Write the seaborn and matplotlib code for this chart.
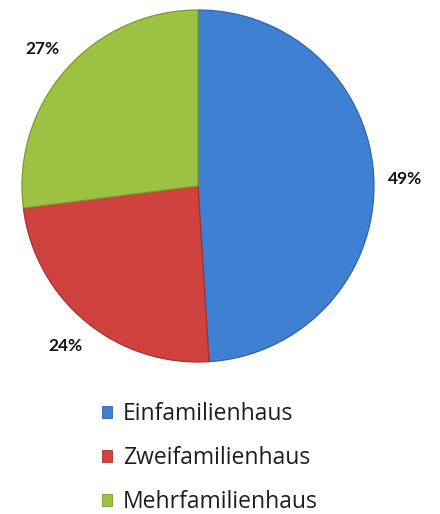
import matplotlib
matplotlib.use("Agg")
import matplotlib.pyplot as plt
import matplotlib.patches as mpatches
import seaborn as sns

# data
categories = ["Einfamilienhaus", "Zweifamilienhaus", "Mehrfamilienhaus"]
shares = [49, 24, 27]
pie_colors = ["#3f80d2", "#cf423e", "#9dc243"]
edge_colors = ["#2f64a8", "#a8302c", "#7a9a2e"]

sns.set_theme(style="white")
plt.rcParams['font.family'] = ['Open Sans', 'DejaVu Sans']
palette = sns.color_palette(pie_colors)

W, H = 440, 514
fig = plt.figure(figsize=(W / 100, H / 100), dpi=100)
fig.patch.set_facecolor("white")

# pie axes: centre (198, 186) px, radius 176 px
cx, cy, r, lim = 198, 186, 176, 1.1
side = 2 * lim * r
ax = fig.add_axes([(cx - lim * r) / W, (H - cy - lim * r) / H, side / W, side / H])

wedges, texts, autotexts = ax.pie(
    shares, colors=palette, startangle=90, counterclock=False,
    autopct="%d%%", pctdistance=1.18, labels=None,
    wedgeprops=dict(linewidth=0.9),
    textprops=dict(fontsize=12.5, fontweight="bold", color="#111111",
                   family=['Lato', 'DejaVu Sans']),
)
for w, ec in zip(wedges, edge_colors):
    w.set_edgecolor(ec)
ax.set_xlim(-lim, lim)
ax.set_ylim(-lim, lim)
ax.axis("off")

handles = [mpatches.Patch(facecolor=c, edgecolor=ec, linewidth=0.6)
           for c, ec in zip(pie_colors, edge_colors)]
leg = fig.legend(handles, categories, loc="upper left",
                 bbox_to_anchor=(91 / W, 1 - 391 / H), frameon=False,
                 prop=dict(size=16.5, weight="normal"),
                 handlelength=0.4, handleheight=0.4,
                 handletextpad=0.5, labelspacing=0.87, borderpad=0)
for t in leg.get_texts():
    t.set_color("#1e1e1e")

fig.savefig("out.png", dpi=100, facecolor="white")
